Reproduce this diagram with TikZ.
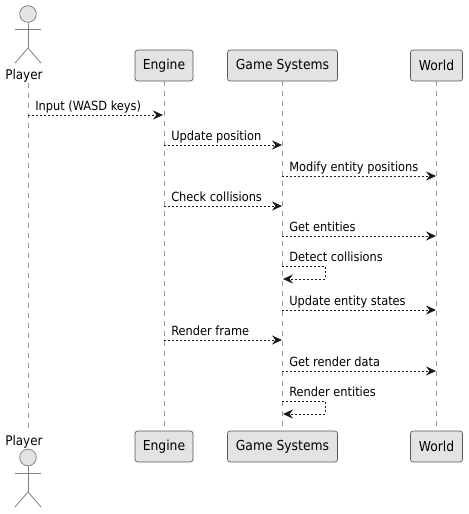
\documentclass[tikz,border=0pt]{standalone}
\usepackage{fontspec}
\setmainfont{DejaVu Sans Condensed}
\usetikzlibrary{arrows.meta, positioning, backgrounds}
\tikzset{
    part_box/.style={
        rectangle, rounded corners=2pt, minimum height=23.25pt, inner xsep=5pt, inner sep=0pt,
        align=center, draw=black!65, fill=black!11, line width=0.5pt, font=\fontsize{10.3}{12}\selectfont
    },
    actor_head/.style={
        circle, minimum size=12.5pt, inner sep=0pt, draw=black!50, fill=black!11, line width=0.6pt
    },
    actor_line/.style={
        draw=black!50, line width=0.6pt
    },
    actor_label/.style={
        inner sep=0pt, font=\fontsize{10}{12}\selectfont
    },
    life_line/.style={
        draw=black!40, line width=0.6pt, dash pattern=on 3.75pt off 3.75pt
    },
    msg/.style={
        draw=black!90, line width=0.6pt, dash pattern=on 1.5pt off 1.5pt,
        -{Stealth[length=7.5pt, width=6.8pt, inset=2.6pt, sep=0pt]}
    },
    msg_label/.style={
        inner sep=0pt, text height=7.5pt, text depth=0pt, font=\fontsize{9.5}{11}\selectfont
    }
}
\begin{document}
\begin{tikzpicture}[x=0.75pt, y=-0.75pt]
    \useasboundingbox (0, 0) rectangle (468, 514);

    % Participants top
    \node[actor_head] (player_head) at (28, 14) {};
    \node[actor_label] (player_label) at (24, 75.5) {Player};
    \node[part_box, minimum width=43.5pt] (engine) at (164, 65.5) {Engine};
    \node[part_box, minimum width=82.5pt] (systems) at (282.5, 65.5) {Game Systems};
    \node[part_box, minimum width=39pt] (world) at (436.5, 65.5) {World};

    % Participants bottom
    \node[actor_label] (player_label_end) at (24, 441.5) {Player};
    \node[actor_head] (player_head_end) at (28, 457.5) {};
    \node[part_box, minimum width=43.5pt] (engine_end) at (164, 446.5) {Engine};
    \node[part_box, minimum width=82.5pt] (systems_end) at (282.5, 446.5) {Game Systems};
    \node[part_box, minimum width=39pt] (world_end) at (436.5, 446.5) {World};

    % Stick figures
    \coordinate (player_hip) at (28, 48);
    \coordinate (player_arm_l) at (15, 29);
    \coordinate (player_arm_r) at (41, 29);
    \coordinate (player_leg_l) at (15, 63);
    \coordinate (player_leg_r) at (41, 63);
    \draw[actor_line] (player_head) -- (player_hip);
    \draw[actor_line] (player_arm_l) -- (player_arm_r);
    \draw[actor_line] (player_leg_l) -- (player_hip) -- (player_leg_r);
    \coordinate (player_hip_end) at (28, 492);
    \coordinate (player_arm_l_end) at (15, 473);
    \coordinate (player_arm_r_end) at (41, 473);
    \coordinate (player_leg_l_end) at (15, 507);
    \coordinate (player_leg_r_end) at (41, 507);
    \draw[actor_line] (player_head_end) -- (player_hip_end);
    \draw[actor_line] (player_arm_l_end) -- (player_arm_r_end);
    \draw[actor_line] (player_leg_l_end) -- (player_hip_end) -- (player_leg_r_end);

    % Lifelines
    \coordinate (player_top) at (28, 83);
    \coordinate (player_bottom) at (28, 428);
    \begin{scope}[on background layer]
        \draw[life_line] (player_top) -- (player_bottom);
        \draw[life_line] (engine) -- (engine_end);
        \draw[life_line] (systems) -- (systems_end);
        \draw[life_line] (world) -- (world_end);
    \end{scope}

    % Message ends
    \coordinate (input_a) at (28, 115);
    \coordinate (input_b) at (163, 115);
    \coordinate (update_a) at (164, 145);
    \coordinate (update_b) at (282, 145);
    \coordinate (modify_a) at (282, 176);
    \coordinate (modify_b) at (436, 176);
    \coordinate (check_a) at (164, 206);
    \coordinate (check_b) at (282, 206);
    \coordinate (get_a) at (282, 236);
    \coordinate (get_b) at (436, 236);
    \coordinate (detect_a) at (282, 266);
    \coordinate (detect_c) at (325, 266);
    \coordinate (detect_d) at (325, 279);
    \coordinate (detect_b) at (283, 279);
    \coordinate (states_a) at (282, 310);
    \coordinate (states_b) at (436, 310);
    \coordinate (frame_a) at (164, 340);
    \coordinate (frame_b) at (282, 340);
    \coordinate (data_a) at (282, 371);
    \coordinate (data_b) at (436, 371);
    \coordinate (render_a) at (282, 401);
    \coordinate (render_c) at (325, 401);
    \coordinate (render_d) at (325, 414);
    \coordinate (render_b) at (283, 414);

    % Messages
    \draw[msg] (input_a) -- (input_b);
    \draw[msg] (update_a) -- (update_b);
    \draw[msg] (modify_a) -- (modify_b);
    \draw[msg] (check_a) -- (check_b);
    \draw[msg] (get_a) -- (get_b);
    \draw[msg] (detect_a) -- (detect_c) -- (detect_d) -- (detect_b);
    \draw[msg] (states_a) -- (states_b);
    \draw[msg] (frame_a) -- (frame_b);
    \draw[msg] (data_a) -- (data_b);
    \draw[msg] (render_a) -- (render_c) -- (render_d) -- (render_b);

    % Message labels
    \node[msg_label, above right=3.4pt and 5.25pt of input_a] (input_label) {Input (WASD keys)};
    \node[msg_label, above right=3.4pt and 5.25pt of update_a] (update_label) {Update position};
    \node[msg_label, above right=3.4pt and 5.25pt of modify_a] (modify_label) {Modify entity positions};
    \node[msg_label, above right=3.4pt and 5.25pt of check_a] (check_label) {Check collisions};
    \node[msg_label, above right=3.4pt and 5.25pt of get_a] (get_label) {Get entities};
    \node[msg_label, above right=3.4pt and 5.25pt of detect_a] (detect_label) {Detect collisions};
    \node[msg_label, above right=3.4pt and 5.25pt of states_a] (states_label) {Update entity states};
    \node[msg_label, above right=3.4pt and 5.25pt of frame_a] (frame_label) {Render frame};
    \node[msg_label, above right=3.4pt and 5.25pt of data_a] (data_label) {Get render data};
    \node[msg_label, above right=3.4pt and 5.25pt of render_a] (render_label) {Render entities};
\end{tikzpicture}
\end{document}
